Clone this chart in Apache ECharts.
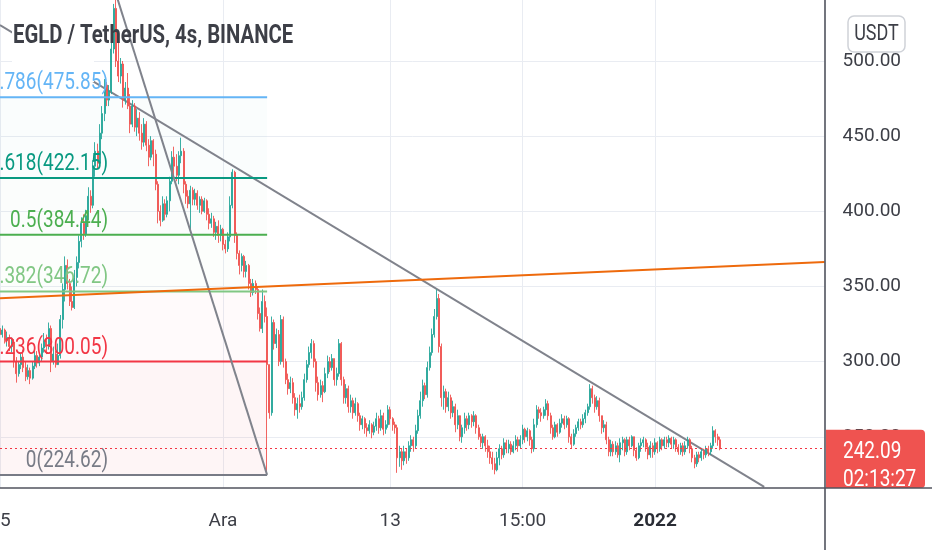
<!DOCTYPE html>
<html>
<head>
<meta charset="utf-8">
<script src="https://cdn.jsdelivr.net/npm/echarts@6/dist/echarts.min.js"></script>
<style>
html, body { margin: 0; padding: 0; background: #fff; }
#main { width: 932px; height: 550px; }
</style>
</head>
<body>
<div id="main"></div>
<script>
// EGLD / USDT 4h candles (slot 0 = 15 Nov)
var firstOpen = 322;
var closes = [
    318,321,314,316,310,313,300,292,298,303,
    296,290,294,289,297,304,299,303,309,314,
    310,322,300,305,298,304,328,348,364,352,
    340,336,356,366,380,392,385,397,410,404,
    430,440,432,452,465,484,474,480,508,535,
    500,490,498,474,482,470,458,470,456,462,
    452,446,458,444,436,447,438,418,400,394,
    405,398,407,420,436,430,424,437,440,418,
    410,405,414,408,412,404,408,400,407,398,
    392,395,386,390,384,388,378,375,383,404,
    426,384,372,364,370,360,364,352,346,352,
    348,332,322,340,330,298,266,326,312,318,
    300,328,300,288,282,286,276,268,272,270,
    276,288,298,306,312,300,286,278,284,280,
    292,300,296,302,288,292,312,288,276,282,
    270,274,266,272,264,258,262,256,254,258,
    253,257,262,256,264,255,258,268,262,258,
    256,236,240,234,240,236,244,248,244,254,
    264,274,284,278,296,306,318,330,342,310,
    276,280,270,276,266,270,258,264,250,256,
    262,258,264,260,264,256,250,246,250,244,
    240,236,232,228,236,242,238,246,242,245,
    240,244,248,244,248,255,250,254,248,242,
    258,268,266,264,268,272,264,256,250,258,
    253,259,262,258,262,250,245,252,256,260,
    258,262,266,270,282,276,270,274,264,256,
    258,248,240,245,240,244,238,246,248,240,
    248,244,250,241,236,244,246,248,243,238,
    244,240,246,242,248,244,248,246,249,245,
    248,243,240,244,240,244,248,242,236,232,
    238,236,240,238,242,240,244,254,250,248,242.09
];
var highs = [
    325,324,322,320,318,316,315,303,300,306,
    308,300,298,296,300,310,307,306,312,319,
    318,326,324,310,307,312,331,352,370,368,
    355,350,361,370,384,396,398,401,416,414,
    434,446,445,458,470,488,486,484,514,538,
    544.25,515,502,500,486,492,478,474,472,468,
    466,458,462,460,448,450,448,441,420,404,
    410,408,410,423,440,443,438,440,449,442,
    420,414,417,416,415,414,410,410,409,408,
    402,399,397,393,394,391,389,381,386,410,
    428,427,386,374,372,371,367,365,355,355,
    354,350,336,348,344,336,298,330,328,322,
    321,331,330,302,292,290,289,279,276,278,
    280,292,301,310,315,314,302,290,288,287,
    296,304,303,305,302,296,315,313,290,285,
    284,278,276,276,273,266,264,263,259,261,
    259,260,266,264,268,266,261,271,270,263,
    260,258,244,242,244,242,247,251,250,258,
    268,280,288,286,300,310,322,335,348,345,
    312,284,282,280,278,274,272,268,258,258,
    266,264,266,265,267,265,258,252,252,251,
    248,244,240,236,240,245,244,249,248,248,
    247,247,251,250,251,258,256,256,255,250,
    262,271,270,269,270,275,274,266,258,260,
    259,262,265,264,264,263,252,255,258,262,
    262,265,268,272,285,284,278,277,276,264,
    261,260,250,248,247,247,246,249,250,249,
    250,250,251,250,243,246,249,250,249,246,
    247,246,249,247,250,249,250,250,251,250,
    250,249,245,246,246,247,250,249,244,238,
    240,240,242,242,244,244,246,257,255,252,250
];
var lows = [
    315,316,312,310,307,306,296,286,290,295,
    293,287,288,285,288,295,296,297,300,306,
    305,308,293,298,296,301,302,322,340,348,
    337,334,335,350,362,376,381,383,394,399,
    402,423,428,430,448,460,470,470,478,505,
    496,486,485,469,471,468,452,456,453,450,
    447,441,443,440,430,434,430,414,392,390,
    393,394,396,400,418,424,420,418,432,412,
    405,402,388,404,404,401,399,398,399,394,
    388,389,383,381,379,380,374,372,373,380,
    402,379,368,358,360,356,356,348,343,344,
    345,328,320,319,326,224.62,262,264,308,309,
    297,298,296,285,278,279,272,264,262,266,
    268,274,286,296,302,296,280,274,276,273,
    279,289,293,294,284,284,290,284,272,272,
    266,266,262,264,260,254,255,252,250,252,
    249,251,254,252,254,251,252,256,258,254,
    252,226,230,228,231,232,234,240,240,242,
    252,262,270,275,276,294,304,316,328,306,
    270,268,266,267,262,263,253,255,247,246,
    252,254,255,256,257,252,248,243,242,240,
    236,232,228,225,227,231,235,236,239,239,
    238,239,241,240,242,245,246,247,244,239,
    240,256,262,260,262,264,261,252,248,249,
    250,252,256,255,256,246,242,244,250,254,
    255,256,259,264,268,272,266,268,260,252,
    253,245,237,237,237,238,236,233,241,237,
    238,241,243,237,234,235,240,243,240,235,
    236,236,238,239,240,241,242,243,243,242,
    242,240,238,238,237,238,242,239,233,229,
    230,233,234,235,236,237,238,242,246,244,241
];

// time scale: 356 four-hour slots, labelled slots only
var slotCount = 356;
var tickSlots = [0, 96, 168, 225, 282];
var tickLabels = ['15', 'Ara', '13', '15:00', '2022'];
var priceTicks = [250, 300, 350, 400, 450, 500];

// fib retracement drawn from the top (slot 50) to the flash crash low (slot 115)
var fibRatios = ['0.786', '0.618', '0.5', '0.382', '0.236', '0'];
var fibLevels = [475.85, 422.15, 384.44, 346.72, 300.05, 224.62];
var fibHigh = 544.25;
var fibSlots = [50, 115];

// hand drawn lines [slot, price]
var trendLine = [[0, 523.9], [329, 216.6]];
var orangeLine = [[0, 342.2], [355, 366.3]];
var lastPrice = 242.09;
var countdown = '02:13:27';

var FONT = 'Roboto, sans-serif';
var TXT = '#3d3f47';
var fibColors = ['#64b5f6', '#089981', '#4caf50', '#81c784', '#f23645', '#787b86'];
var fibFills = ['rgba(8,153,129,0.02)', 'rgba(76,175,80,0.02)', 'rgba(129,199,132,0.025)',
    'rgba(242,54,69,0.025)', 'rgba(242,54,69,0.05)'];

var cats = [];
var t0 = Date.UTC(2021, 10, 15, 0);
for (var i = 0; i < slotCount; i++) {
    cats.push(new Date(t0 + i * 4 * 3600 * 1000).toISOString().slice(0, 16).replace('T', ' '));
}

var ohlc = [];
var prev = firstOpen;
for (var i = 0; i < closes.length; i++) {
    ohlc.push([prev, closes[i], lows[i], highs[i]]);
    prev = closes[i];
}

function seg(pts) {
    return pts.map(function (p) { return [cats[p[0]], p[1]]; });
}
function isTick(i) { return tickSlots.indexOf(i) >= 0; }

var series = [];
// trendline sits under the legend box
series.push({
    type: 'line', z: 1, silent: true, animation: false, symbol: 'none',
    data: seg(trendLine), lineStyle: { color: '#80838c', width: 2 }
});
series.push({
    type: 'candlestick', z: 3, animation: false, barWidth: 1.5,
    data: ohlc,
    itemStyle: {
        color: '#26a69a', color0: '#ef5350',
        borderColor: '#26a69a', borderColor0: '#ef5350', borderWidth: 0.9
    },
    markLine: {
        silent: true, symbol: 'none', animation: false,
        label: { show: false },
        lineStyle: { color: '#f23645', type: [2, 3], width: 1 },
        data: [{ yAxis: lastPrice }]
    }
});
// fib bands + levels
var bands = [];
for (var i = 0; i < fibLevels.length - 1; i++) {
    bands.push([
        { coord: [cats[0], fibLevels[i]], itemStyle: { color: fibFills[i] } },
        { coord: [cats[fibSlots[1]], fibLevels[i + 1]] }
    ]);
}
series.push({
    type: 'line', z: 2, silent: true, animation: false, data: [],
    markArea: { silent: true, animation: false, data: bands }
});
fibLevels.forEach(function (lvl, i) {
    series.push({
        type: 'line', z: 4, silent: true, animation: false, symbol: 'none',
        data: seg([[0, lvl], [fibSlots[1], lvl]]),
        lineStyle: { color: fibColors[i], width: 2 }
    });
});
series.push({
    type: 'line', z: 4, silent: true, animation: false, symbol: 'none',
    data: seg([[fibSlots[0], fibHigh], [fibSlots[1], fibLevels[fibLevels.length - 1]]]),
    lineStyle: { color: '#80838c', width: 2 }
});
series.push({
    type: 'line', z: 4, silent: true, animation: false, symbol: 'none',
    data: seg(orangeLine), lineStyle: { color: '#ee6a0c', width: 2 }
});

var chart = echarts.init(document.getElementById('main'));
chart.setOption({
    backgroundColor: '#fff',
    animation: false,
    grid: { left: 0, right: 107.4, top: 0, bottom: 62, containLabel: false, outerBoundsMode: 'none' },
    xAxis: {
        type: 'category', data: cats, boundaryGap: false,
        axisLine: { show: false }, axisTick: { show: false },
        axisLabel: {
            interval: isTick, margin: 24, hideOverlap: false,
            color: TXT, fontSize: 19, fontFamily: FONT,
            formatter: function (v, i) {
                var s = tickLabels[tickSlots.indexOf(i)];
                return s === '2022' ? '{b|' + s + '}' : s;
            },
            rich: { b: { fontSize: 19, fontFamily: FONT, fontWeight: 'bold', color: '#2a2d35' } }
        },
        splitLine: { show: true, interval: isTick, lineStyle: { color: '#e9ecf2', width: 1 } }
    },
    yAxis: {
        type: 'value', position: 'right', min: 215.9, max: 540.6,
        axisLine: { show: false },
        axisTick: { show: false, customValues: priceTicks },
        axisLabel: {
            customValues: priceTicks, margin: 18,
            color: TXT, fontSize: 19, fontFamily: FONT,
            formatter: function (v) { return v.toFixed(2); }
        },
        splitLine: { show: true, lineStyle: { color: '#e9ecf2', width: 1 } }
    },
    series: series
});

// overlay texts placed through the chart's own scales
function label(x, y, text, fill, size, extra) {
    var st = { text: text, fill: fill, fontSize: size, fontFamily: FONT };
    for (var k in (extra || {})) st[k] = extra[k];
    return { type: 'text', z: 10, silent: true, x: x, y: y, scaleY: 1.25, style: st };
}
var g = [];
g.push({ type: 'rect', z: 2, silent: true, shape: { x: 12, y: 14, width: 82, height: 68 }, style: { fill: '#fff' } });
fibLevels.forEach(function (lvl, i) {
    var py = chart.convertToPixel({ yAxisIndex: 0 }, lvl);
    g.push(label(108, py - 2, fibRatios[i] + '(' + lvl.toFixed(2) + ')', fibColors[i], 19,
        { textAlign: 'right', align: 'right', textVerticalAlign: 'bottom', verticalAlign: 'bottom' }));
});
g.push(label(13, 37, 'EGLD / TetherUS, 4s, BINANCE', TXT, 20.3,
    { fontWeight: 'bold', textVerticalAlign: 'middle', verticalAlign: 'middle' }));
var lp = chart.convertToPixel({ yAxisIndex: 0 }, lastPrice);
g.push({ type: 'rect', z: 10, silent: true, shape: { x: 826, y: lp - 19, width: 99, height: 488 - (lp - 19), r: [0, 4, 4, 0] }, style: { fill: '#ef5350' } });
var t1 = label(843, lp + 3, lastPrice.toFixed(2), '#fff', 19, { textVerticalAlign: 'middle', verticalAlign: 'middle' });
var t2 = label(843, lp + 31, countdown, '#fff', 19, { textVerticalAlign: 'middle', verticalAlign: 'middle' });
t1.z = t2.z = 11;
g.push(t1, t2);
g.push({ type: 'rect', z: 12, silent: true, shape: { x: 826, y: 489, width: 106, height: 61 }, style: { fill: '#fff' } });
// pane separators
g.push({ type: 'line', z: 13, silent: true, shape: { x1: 0, y1: 488, x2: 932, y2: 488 }, style: { stroke: '#50535e', lineWidth: 1.6 } });
g.push({ type: 'line', z: 13, silent: true, shape: { x1: 825, y1: 0, x2: 825, y2: 550 }, style: { stroke: '#50535e', lineWidth: 1.6 } });
// currency badge
g.push({ type: 'rect', z: 14, silent: true, shape: { x: 848, y: 16, width: 57, height: 36, r: 6 }, style: { fill: '#fff', stroke: '#cfd2d8', lineWidth: 1.5 } });
var t3 = label(876.5, 34.5, 'USDT', TXT, 18, { textAlign: 'center', align: 'center', textVerticalAlign: 'middle', verticalAlign: 'middle' });
t3.z = 15;
g.push(t3);
chart.setOption({ graphic: g });
</script>
</body>
</html>
